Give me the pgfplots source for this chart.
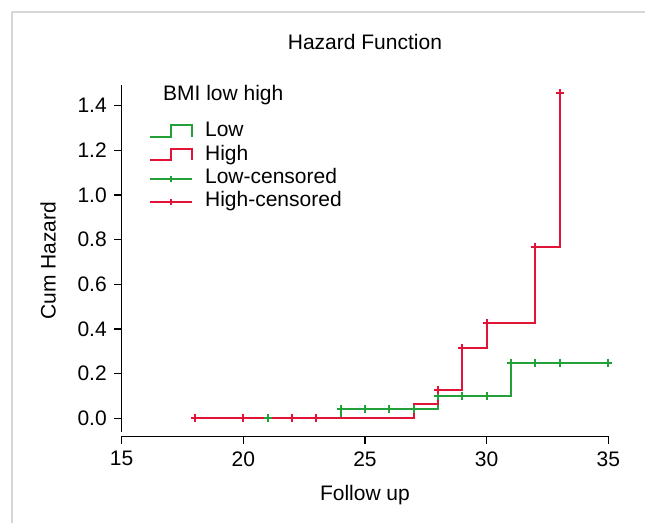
\documentclass[border=0pt]{standalone}
\usepackage{fontspec}
\setmainfont{Liberation Sans}
\usepackage{pgfplots}
\pgfplotsset{compat=1.18}
\definecolor{kmgreen}{RGB}{35,160,55}
\definecolor{kmred}{RGB}{225,20,55}
\definecolor{framegray}{RGB}{215,215,215}
\pgfplotsset{
  stepleg/.style={legend image code/.code={
    \draw[#1, line width=1pt] (0pt,-3pt) -- (10.5pt,-3pt) -- (10.5pt,2.8pt) -- (20.7pt,2.8pt) -- (20.7pt,-2.8pt);}},
  censleg/.style={legend image code/.code={
    \draw[#1, line width=1pt] (0pt,-0.4pt) -- (20.7pt,-0.4pt);
    \draw[#1, line width=1pt] (10.4pt,-1.9pt) -- (10.4pt,1.1pt);}},
}
\begin{document}
\fontsize{10.5}{12.6}\selectfont
\begin{tikzpicture}
\useasboundingbox (-60.8pt,-43.25pt) rectangle (261.7pt,218.25pt);
\draw[framegray, line width=1pt] (-55pt,-43.25pt) -- (-55pt,212.25pt) -- (261.7pt,212.25pt);
\begin{axis}[
  at={(0,0)}, anchor=south west,
  scale only axis, width=243.35pt, height=175.75pt,
  xmin=15, xmax=35, ymin=-0.0815, ymax=1.4926,
  clip=false,
  font=\fontsize{10.5}{12.6}\selectfont,
  axis line style={draw=none},
  tick align=outside, xtick pos=bottom, ytick pos=left,
  major tick length=3.75pt,
  tick style={black, line width=0.6pt},
  xtick={15,20,25,30,35},
  ytick={0,0.2,0.4,0.6,0.8,1.0,1.2,1.4},
  yticklabel style={/pgf/number format/.cd, fixed, fixed zerofill, precision=1},
  /pgf/number format/assume math mode=true,
  title={Hazard Function},
  title style={at={(axis description cs:0.5,1.067)}, anchor=base},
  xlabel={Follow up},
  every axis x label/.style={at={(axis description cs:0.5,-0.1807)}, anchor=base},
  ylabel={Cum Hazard},
  every axis y label/.style={at={(axis description cs:-0.1356,0.5)}, rotate=90, anchor=base},
  legend cell align=left,
  legend style={at={(axis cs:16.14,1.331)}, anchor=north west, draw=none, fill=none,
    inner sep=0pt, outer sep=0pt, row sep=1.67pt,
    nodes={inner sep=0pt, text height=7.8pt, text depth=2.2pt},
    /tikz/every odd column/.append style={column sep=6.2pt}},
]
% axis lines, R style (not joined)
\draw[black, line width=0.6pt] (axis cs:15,-0.061) -- (axis cs:15,1.4926);
\draw[black, line width=0.6pt] (axis cs:15,-0.0815) -- (axis cs:35,-0.0815);

% step curves
\addplot[kmgreen, line width=1pt, const plot mark left, forget plot] coordinates {
  (21,0)(24,0.042)(28,0.100)(31,0.249)(35,0.249)};
\addplot[kmred, line width=1pt, const plot mark left, forget plot] coordinates {
  (18,0)(27,0.063)(28,0.127)(29,0.313)(30,0.425)(32,0.766)(33,1.455)};

% censoring marks
\addplot[kmgreen, only marks, mark=+, mark size=2pt, mark options={line width=1pt}, forget plot] coordinates {
  (21,0)(24,0.042)(25,0.042)(26,0.042)(27,0.042)(28,0.100)(29,0.100)(30,0.100)
  (31,0.249)(32,0.249)(33,0.249)(35,0.249)};
\addplot[kmred, only marks, mark=+, mark size=2pt, mark options={line width=1pt}, forget plot] coordinates {
  (18,0)(20,0)(22,0)(23,0)(28,0.127)(29,0.313)(30,0.425)(32,0.766)(33,1.455)};

\node[anchor=base west, inner sep=0pt] at (axis cs:16.69,1.422) {BMI low high};
\addlegendimage{stepleg=kmgreen}
\addlegendentry{Low}
\addlegendimage{stepleg=kmred}
\addlegendentry{High}
\addlegendimage{censleg=kmgreen}
\addlegendentry{Low-censored}
\addlegendimage{censleg=kmred}
\addlegendentry{High-censored}
\end{axis}
\end{tikzpicture}
\end{document}
